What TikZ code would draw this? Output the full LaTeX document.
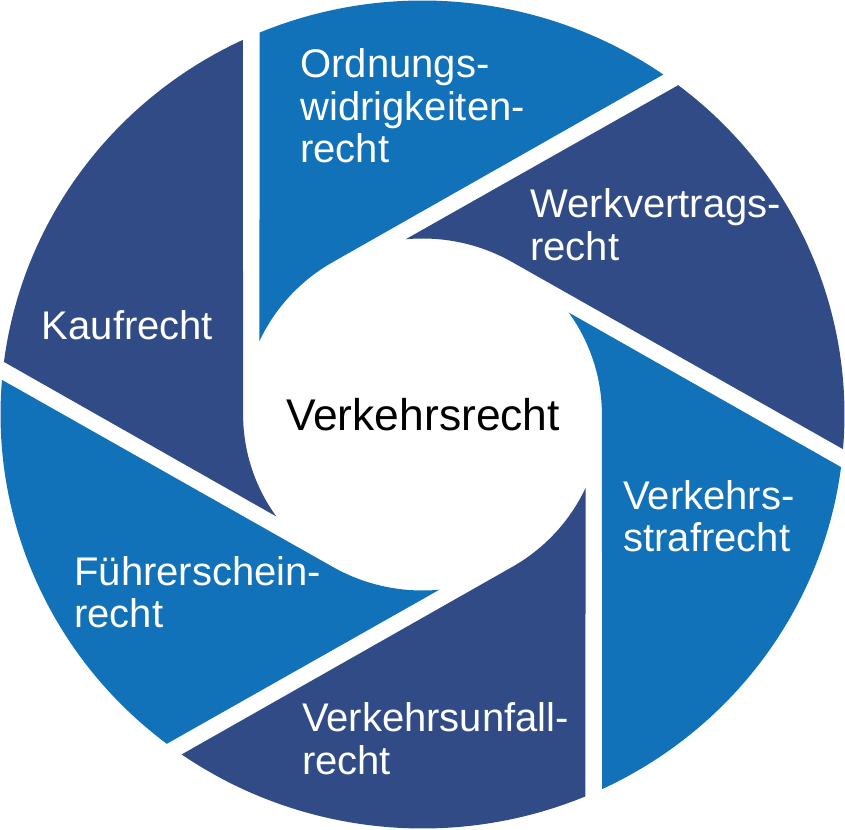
\documentclass[tikz,border=0pt]{standalone}
\usepackage{fontspec}
\setmainfont{Liberation Sans}
\definecolor{lightblade}{RGB}{17,113,185}
\definecolor{darkblade}{RGB}{49,75,135}
\begin{document}
\begin{tikzpicture}[x=0.5pt,y=0.5pt, line join = round,
	lightseg/.style={fill=lightblade},
	darkseg/.style={fill=darkblade},
	seglabel/.style={text=white, font=\fontsize{20}{21.25}\selectfont, align=left, anchor=base west, inner sep=0pt}]
	\useasboundingbox (-422.5,-414.5) rectangle (422.5,414.5);
	\begin{scope}[xscale=1.0193]
	% blades: tangent edge, outer arc, cut edge, inner arc
	\fill[lightseg] (120:176) -- (55.2:414) arc[start angle=55.2, end angle=112.7, radius=414] -- (155.4:176) arc[start angle=155.4, end angle=120, radius=176] -- cycle;
	\fill[darkseg] (60:176) -- (-4.8:414) arc[start angle=-4.8, end angle=52.7, radius=414] -- (95.4:176) arc[start angle=95.4, end angle=60, radius=176] -- cycle;
	\fill[lightseg] (0:176) -- (-64.8:414) arc[start angle=-64.8, end angle=-7.3, radius=414] -- (35.4:176) arc[start angle=35.4, end angle=0, radius=176] -- cycle;
	\fill[darkseg] (-60:176) -- (-124.8:414) arc[start angle=-124.8, end angle=-67.3, radius=414] -- (-24.6:176) arc[start angle=-24.6, end angle=-60, radius=176] -- cycle;
	\fill[lightseg] (240:176) -- (175.2:414) arc[start angle=175.2, end angle=232.7, radius=414] -- (275.4:176) arc[start angle=275.4, end angle=240, radius=176] -- cycle;
	\fill[darkseg] (180:176) -- (115.2:414) arc[start angle=115.2, end angle=172.7, radius=414] -- (215.4:176) arc[start angle=215.4, end angle=180, radius=176] -- cycle;
	\end{scope}
	
	% labels sit on the baseline of their last line
	\node[seglabel] (owi) at (-122.5,251.5) {Ordnungs-\\widrigkeiten-\\recht};
	\node[seglabel] (werk) at (107.5,154) {Werkvertrags-\\recht};
	\node[seglabel] (straf) at (200.5,-137) {Verkehrs-\\strafrecht};
	\node[seglabel] (unfall) at (-120.8,-359.5) {Verkehrsunfall-\\recht};
	\node[seglabel] (fs) at (-348.5,-213) {Führerschein-\\recht};
	\node[seglabel] (kauf) at (-381,74.5) {Kaufrecht};
	\node[anchor=base, inner sep=0pt, font=\fontsize{22.2}{24}\selectfont] (vr) at (0.5,-15.5) {Verkehrsrecht};
\end{tikzpicture}
\end{document}
